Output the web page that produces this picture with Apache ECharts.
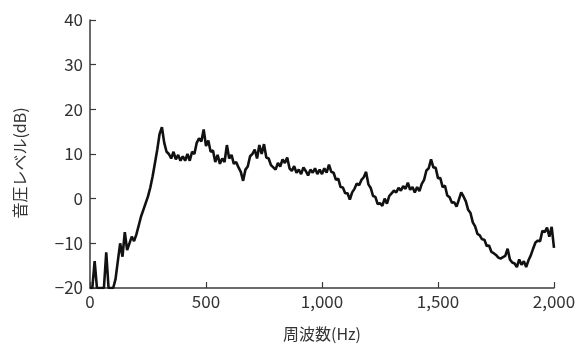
<!DOCTYPE html>
<html>
<head>
<meta charset="utf-8">
<script src="https://cdn.jsdelivr.net/npm/echarts@6/dist/echarts.min.js"></script>
<style>
  html, body { margin: 0; padding: 0; background: #fff; }
  #chart { width: 586px; height: 347px; }
</style>
</head>
<body>
<div id="chart"></div>
<script>
// 周波数のサンプル間隔 (Hz)
const freqStep = 10;
// 音圧レベル (dB)、0Hz から 2000Hz まで 10Hz ごと
const levels = [
  -20, -20, -14, -20, -20, -20, -20, -12, -20, -20,
  -20, -18, -14, -10, -13, -7.5, -11.5, -10, -8.5, -9.5,
  -8, -6, -4, -2.5, -1, 0.5, 2.5, 5, 8, 11,
  14.5, 16, 12.5, 10.5, 10, 9, 10.5, 8.8, 9.8, 8.5,
  9.5, 8.5, 10, 8.5, 10.5, 10, 12.5, 13.5, 12.8, 15.5,
  11.8, 13, 10.5, 10.8, 8.2, 9.8, 7.8, 9, 8.2, 12,
  9, 9.8, 7.8, 8.2, 7, 6, 4, 6.5, 7.2, 9.5,
  10, 11, 9, 12, 10, 12.2, 9.2, 9, 7.5, 7,
  6.5, 8, 7.2, 8.8, 8, 9.2, 6.8, 6.2, 7.3, 5.8,
  6.5, 5.5, 7, 6.2, 5.2, 6.5, 5.8, 6.8, 5.5, 6.5,
  5.5, 6.8, 5.8, 7.6, 6, 5.8, 4.2, 4.5, 2.6, 2.5,
  1.2, 1.2, -0.2, 1.4, 2.2, 3.4, 3, 4.2, 4.8, 6,
  3.2, 2.4, 0.6, 0.4, -1.2, -1, -1.6, 0, -1.1, 0.6,
  1.2, 1.8, 1.4, 2.4, 1.8, 2.8, 2.2, 3.6, 2, 2.6,
  1.4, 2.6, 1.7, 3.3, 4.2, 6.3, 6.8, 8.8, 7, 6.9,
  4.6, 4.6, 2.6, 2.9, 0.7, 0.3, -0.9, -0.8, -1.8, -0.2,
  1.4, 0.5, -0.6, -2.5, -3.2, -5.3, -6.2, -7.9, -8.2, -9.1,
  -9.2, -10.6, -10.5, -11.9, -12.2, -12.6, -13.2, -13.4, -13.1, -12.8,
  -11.2, -13.6, -14.3, -14.5, -15.3, -13.6, -14.8, -14, -15.3, -13.8,
  -12.7, -11.2, -9.8, -9.4, -9.5, -7.2, -7.5, -6.5, -8.5, -6.3,
  -11
];
const xTicks = [0, 500, 1000, 1500, 2000];
const yTicks = [-20, -10, 0, 10, 20, 30, 40];

const font = '"Noto Sans CJK JP", "Noto Sans", sans-serif';
const axisColor = '#3a3a3a';
const textColor = '#333';

const chart = echarts.init(document.getElementById('chart'));

const fmtNum = (v) => {
  const s = Math.abs(v).toLocaleString('en-US');
  return v < 0 ? '−' + s : s;
};

const option = {
  animation: false,
  grid: { left: 90, right: 32, top: 20, bottom: 57 },
  xAxis: {
    type: 'value',
    min: xTicks[0],
    max: xTicks[xTicks.length - 1],
    interval: 500,
    name: '周波数(Hz)',
    nameLocation: 'middle',
    nameGap: 38,
    nameTextStyle: { fontFamily: font, fontSize: 16, color: textColor },
    axisLine: { show: true, onZero: false, lineStyle: { color: axisColor, width: 1.5 } },
    axisTick: { show: true, inside: true, length: 6, lineStyle: { color: axisColor, width: 1.2 } },
    axisLabel: { fontFamily: font, fontSize: 17, color: textColor, margin: 5, formatter: fmtNum },
    splitLine: { show: false }
  },
  yAxis: {
    type: 'value',
    min: yTicks[0],
    max: yTicks[yTicks.length - 1],
    interval: 10,
    name: '音圧レベル(dB)',
    nameLocation: 'middle',
    nameGap: 62,
    nameTextStyle: { fontFamily: font, fontSize: 16, color: textColor, padding: [0, 18, 0, 0] },
    axisLine: { show: true, onZero: false, lineStyle: { color: axisColor, width: 1.5 } },
    axisTick: { show: true, inside: true, length: 6, lineStyle: { color: axisColor, width: 1.2 } },
    axisLabel: { fontFamily: font, fontSize: 17, color: textColor, margin: 7, formatter: fmtNum },
    splitLine: { show: false }
  },
  series: [{
    type: 'line',
    data: levels.map((v, i) => [i * freqStep, v]),
    symbol: 'none',
    smooth: false,
    lineStyle: { color: '#111', width: 2.6 },
    clip: true
  }]
};
chart.setOption(option);
</script>
</body>
</html>
